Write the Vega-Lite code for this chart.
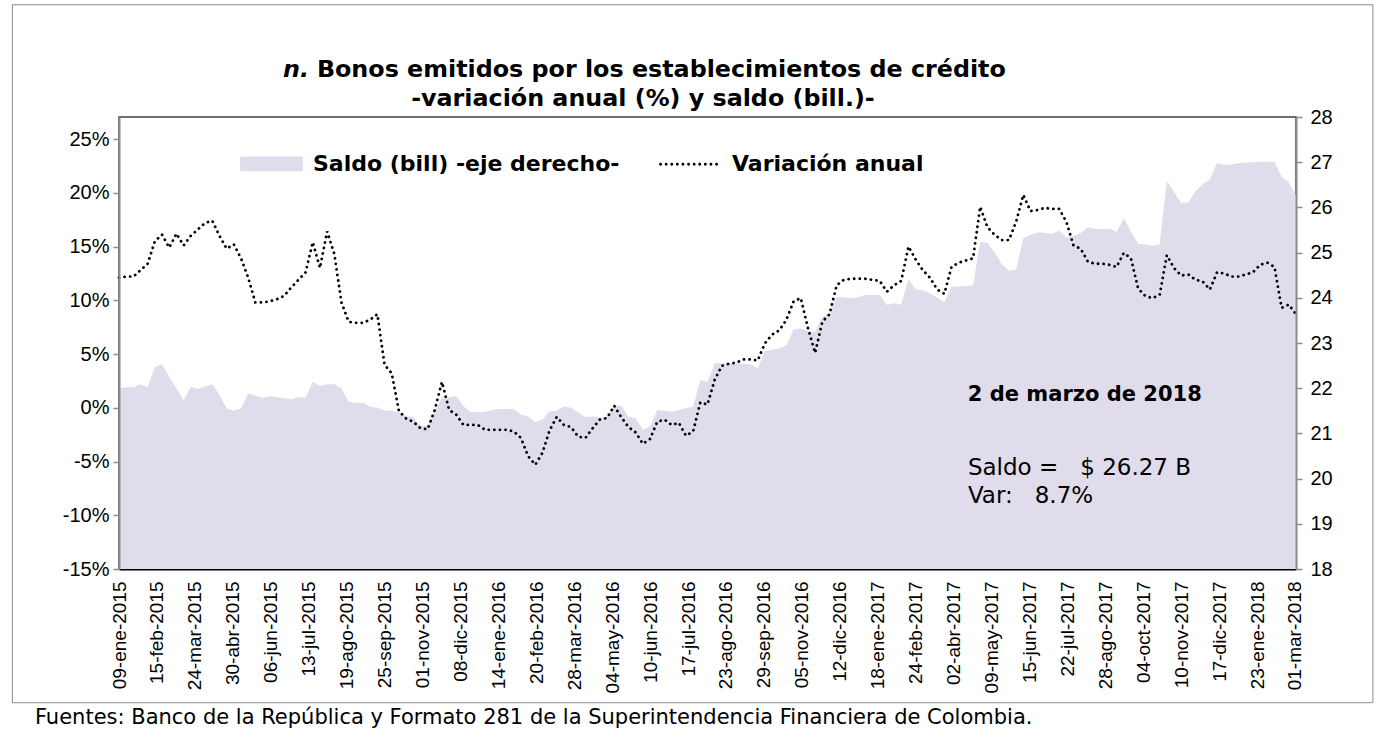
{
  "$schema": "https://vega.github.io/schema/vega-lite/v6.json",
  "width": 1177,
  "height": 452,
  "autosize": {"type": "none"},
  "padding": {"left": 119, "top": 117, "right": 85, "bottom": 166},
  "background": "white",
  "config": {
    "font": "Liberation Sans",
    "view": {"stroke": "#404040", "strokeWidth": 1.5},
    "axis": {"grid": false, "labelFont": "Liberation Sans", "labelColor": "black", "domainColor": "#8c8c8c", "tickColor": "#8c8c8c", "domainWidth": 2, "tickWidth": 1.5, "tickSize": 6, "title": null},
    "axisX": {"labelAngle": 270, "labelAlign": "right", "labelBaseline": "middle", "labelFontSize": 19, "labelPadding": 12, "ticks": false, "domainColor": "black", "domainWidth": 2, "labelOverlap": false, "labelBound": false, "labelFlush": false, "zindex": 1}
  },
  "data": {"name": "semanas"},
  "datasets": {
    "semanas": [
      {"fecha": "2015-01-09", "var": 12.1, "saldo": 22.00},
      {"fecha": "2015-01-16", "var": 12.2, "saldo": 22.02},
      {"fecha": "2015-01-23", "var": 12.2, "saldo": 22.02},
      {"fecha": "2015-01-30", "var": 12.8, "saldo": 22.09},
      {"fecha": "2015-02-06", "var": 13.4, "saldo": 22.02},
      {"fecha": "2015-02-13", "var": 15.5, "saldo": 22.47},
      {"fecha": "2015-02-20", "var": 16.1, "saldo": 22.53},
      {"fecha": "2015-02-27", "var": 14.9, "saldo": 22.25},
      {"fecha": "2015-03-06", "var": 16.2, "saldo": 22.00},
      {"fecha": "2015-03-13", "var": 15.1, "saldo": 21.72},
      {"fecha": "2015-03-20", "var": 16.0, "saldo": 22.03},
      {"fecha": "2015-03-27", "var": 16.6, "saldo": 21.98},
      {"fecha": "2015-04-03", "var": 17.2, "saldo": 22.04},
      {"fecha": "2015-04-10", "var": 17.4, "saldo": 22.09},
      {"fecha": "2015-04-17", "var": 16.0, "saldo": 21.85},
      {"fecha": "2015-04-24", "var": 14.8, "saldo": 21.55},
      {"fecha": "2015-05-01", "var": 15.2, "saldo": 21.50},
      {"fecha": "2015-05-08", "var": 13.9, "saldo": 21.55},
      {"fecha": "2015-05-15", "var": 12.1, "saldo": 21.88},
      {"fecha": "2015-05-22", "var": 9.8, "saldo": 21.84},
      {"fecha": "2015-05-29", "var": 9.8, "saldo": 21.79},
      {"fecha": "2015-06-05", "var": 9.9, "saldo": 21.83},
      {"fecha": "2015-06-12", "var": 10.1, "saldo": 21.80},
      {"fecha": "2015-06-19", "var": 10.4, "saldo": 21.78},
      {"fecha": "2015-06-26", "var": 11.2, "saldo": 21.75},
      {"fecha": "2015-07-03", "var": 11.9, "saldo": 21.80},
      {"fecha": "2015-07-10", "var": 12.6, "saldo": 21.79},
      {"fecha": "2015-07-17", "var": 15.4, "saldo": 22.14},
      {"fecha": "2015-07-24", "var": 13.0, "saldo": 22.05},
      {"fecha": "2015-07-31", "var": 16.4, "saldo": 22.09},
      {"fecha": "2015-08-07", "var": 14.3, "saldo": 22.09},
      {"fecha": "2015-08-14", "var": 9.8, "saldo": 22.00},
      {"fecha": "2015-08-21", "var": 8.0, "saldo": 21.70},
      {"fecha": "2015-08-28", "var": 7.9, "saldo": 21.67},
      {"fecha": "2015-09-04", "var": 7.9, "saldo": 21.68},
      {"fecha": "2015-09-11", "var": 8.2, "saldo": 21.59},
      {"fecha": "2015-09-18", "var": 8.7, "saldo": 21.57},
      {"fecha": "2015-09-25", "var": 4.0, "saldo": 21.51},
      {"fecha": "2015-10-02", "var": 3.2, "saldo": 21.50},
      {"fecha": "2015-10-09", "var": -0.3, "saldo": 21.46},
      {"fecha": "2015-10-16", "var": -1.0, "saldo": 21.38},
      {"fecha": "2015-10-23", "var": -1.3, "saldo": 21.36},
      {"fecha": "2015-10-30", "var": -1.9, "saldo": 21.17},
      {"fecha": "2015-11-06", "var": -2.0, "saldo": 21.17},
      {"fecha": "2015-11-13", "var": -0.2, "saldo": 21.48},
      {"fecha": "2015-11-20", "var": 2.4, "saldo": 21.80},
      {"fecha": "2015-11-27", "var": -0.2, "saldo": 21.80},
      {"fecha": "2015-12-04", "var": -0.65, "saldo": 21.83},
      {"fecha": "2015-12-11", "var": -1.6, "saldo": 21.60},
      {"fecha": "2015-12-18", "var": -1.6, "saldo": 21.47},
      {"fecha": "2015-12-25", "var": -1.6, "saldo": 21.47},
      {"fecha": "2016-01-01", "var": -2.05, "saldo": 21.48},
      {"fecha": "2016-01-08", "var": -2.05, "saldo": 21.51},
      {"fecha": "2016-01-15", "var": -2.05, "saldo": 21.54},
      {"fecha": "2016-01-22", "var": -2.05, "saldo": 21.54},
      {"fecha": "2016-01-29", "var": -2.2, "saldo": 21.54},
      {"fecha": "2016-02-05", "var": -2.8, "saldo": 21.41},
      {"fecha": "2016-02-12", "var": -4.5, "saldo": 21.38},
      {"fecha": "2016-02-19", "var": -5.3, "saldo": 21.25},
      {"fecha": "2016-02-26", "var": -4.2, "saldo": 21.30},
      {"fecha": "2016-03-04", "var": -2.1, "saldo": 21.49},
      {"fecha": "2016-03-11", "var": -0.85, "saldo": 21.50},
      {"fecha": "2016-03-18", "var": -1.6, "saldo": 21.60},
      {"fecha": "2016-03-25", "var": -1.8, "saldo": 21.57},
      {"fecha": "2016-04-01", "var": -2.7, "saldo": 21.46},
      {"fecha": "2016-04-08", "var": -2.8, "saldo": 21.36},
      {"fecha": "2016-04-15", "var": -1.9, "saldo": 21.38},
      {"fecha": "2016-04-22", "var": -1.1, "saldo": 21.36},
      {"fecha": "2016-04-29", "var": -0.96, "saldo": 21.37},
      {"fecha": "2016-05-06", "var": 0.2, "saldo": 21.61},
      {"fecha": "2016-05-13", "var": -0.9, "saldo": 21.61},
      {"fecha": "2016-05-20", "var": -1.8, "saldo": 21.37},
      {"fecha": "2016-05-27", "var": -2.3, "saldo": 21.33},
      {"fecha": "2016-06-03", "var": -3.35, "saldo": 21.08},
      {"fecha": "2016-06-10", "var": -2.9, "saldo": 21.15},
      {"fecha": "2016-06-17", "var": -1.3, "saldo": 21.52},
      {"fecha": "2016-06-24", "var": -1.1, "saldo": 21.50},
      {"fecha": "2016-07-01", "var": -1.6, "saldo": 21.48},
      {"fecha": "2016-07-08", "var": -1.4, "saldo": 21.52},
      {"fecha": "2016-07-15", "var": -2.6, "saldo": 21.56},
      {"fecha": "2016-07-22", "var": -2.2, "saldo": 21.59},
      {"fecha": "2016-07-29", "var": 0.5, "saldo": 22.18},
      {"fecha": "2016-08-05", "var": 0.3, "saldo": 22.14},
      {"fecha": "2016-08-12", "var": 2.6, "saldo": 22.55},
      {"fecha": "2016-08-19", "var": 3.9, "saldo": 22.55},
      {"fecha": "2016-08-26", "var": 4.1, "saldo": 22.55},
      {"fecha": "2016-09-02", "var": 4.2, "saldo": 22.55},
      {"fecha": "2016-09-09", "var": 4.5, "saldo": 22.54},
      {"fecha": "2016-09-16", "var": 4.5, "saldo": 22.53},
      {"fecha": "2016-09-23", "var": 4.4, "saldo": 22.44},
      {"fecha": "2016-09-30", "var": 6.0, "saldo": 22.82},
      {"fecha": "2016-10-07", "var": 6.8, "saldo": 22.85},
      {"fecha": "2016-10-14", "var": 7.2, "saldo": 22.88},
      {"fecha": "2016-10-21", "var": 8.2, "saldo": 22.95},
      {"fecha": "2016-10-28", "var": 9.9, "saldo": 23.30},
      {"fecha": "2016-11-04", "var": 10.2, "saldo": 23.32},
      {"fecha": "2016-11-11", "var": 7.4, "saldo": 23.26},
      {"fecha": "2016-11-18", "var": 5.1, "saldo": 23.25},
      {"fecha": "2016-11-25", "var": 8.0, "saldo": 23.58},
      {"fecha": "2016-12-02", "var": 8.7, "saldo": 23.66},
      {"fecha": "2016-12-09", "var": 11.4, "saldo": 24.02},
      {"fecha": "2016-12-16", "var": 11.9, "saldo": 24.01},
      {"fecha": "2016-12-23", "var": 12.0, "saldo": 23.99},
      {"fecha": "2016-12-30", "var": 12.0, "saldo": 24.02},
      {"fecha": "2017-01-06", "var": 12.0, "saldo": 24.06},
      {"fecha": "2017-01-13", "var": 11.9, "saldo": 24.06},
      {"fecha": "2017-01-20", "var": 11.8, "saldo": 24.06},
      {"fecha": "2017-01-27", "var": 10.8, "saldo": 23.84},
      {"fecha": "2017-02-03", "var": 11.4, "saldo": 23.88},
      {"fecha": "2017-02-10", "var": 11.8, "saldo": 23.85},
      {"fecha": "2017-02-17", "var": 15.0, "saldo": 24.41},
      {"fecha": "2017-02-24", "var": 13.8, "saldo": 24.19},
      {"fecha": "2017-03-03", "var": 12.8, "saldo": 24.17},
      {"fecha": "2017-03-10", "var": 12.1, "saldo": 24.10},
      {"fecha": "2017-03-17", "var": 11.0, "saldo": 24.00},
      {"fecha": "2017-03-24", "var": 10.6, "saldo": 23.90},
      {"fecha": "2017-03-31", "var": 13.1, "saldo": 24.25},
      {"fecha": "2017-04-07", "var": 13.5, "saldo": 24.25},
      {"fecha": "2017-04-14", "var": 13.7, "saldo": 24.26},
      {"fecha": "2017-04-21", "var": 13.9, "saldo": 24.28},
      {"fecha": "2017-04-28", "var": 18.7, "saldo": 25.24},
      {"fecha": "2017-05-05", "var": 16.8, "saldo": 25.22},
      {"fecha": "2017-05-12", "var": 16.1, "saldo": 25.00},
      {"fecha": "2017-05-19", "var": 15.6, "saldo": 24.75},
      {"fecha": "2017-05-26", "var": 15.6, "saldo": 24.60},
      {"fecha": "2017-06-02", "var": 17.3, "saldo": 24.62},
      {"fecha": "2017-06-09", "var": 19.8, "saldo": 25.31},
      {"fecha": "2017-06-16", "var": 18.3, "saldo": 25.39},
      {"fecha": "2017-06-23", "var": 18.4, "saldo": 25.45},
      {"fecha": "2017-06-30", "var": 18.6, "saldo": 25.44},
      {"fecha": "2017-07-07", "var": 18.5, "saldo": 25.41},
      {"fecha": "2017-07-14", "var": 18.5, "saldo": 25.49},
      {"fecha": "2017-07-21", "var": 17.3, "saldo": 25.34},
      {"fecha": "2017-07-28", "var": 15.1, "saldo": 25.37},
      {"fecha": "2017-08-04", "var": 14.8, "saldo": 25.43},
      {"fecha": "2017-08-11", "var": 13.6, "saldo": 25.56},
      {"fecha": "2017-08-18", "var": 13.4, "saldo": 25.52},
      {"fecha": "2017-08-25", "var": 13.4, "saldo": 25.52},
      {"fecha": "2017-09-01", "var": 13.3, "saldo": 25.52},
      {"fecha": "2017-09-08", "var": 13.1, "saldo": 25.46},
      {"fecha": "2017-09-15", "var": 14.4, "saldo": 25.76},
      {"fecha": "2017-09-22", "var": 13.9, "saldo": 25.46},
      {"fecha": "2017-09-29", "var": 11.1, "saldo": 25.19},
      {"fecha": "2017-10-06", "var": 10.4, "saldo": 25.18},
      {"fecha": "2017-10-13", "var": 10.2, "saldo": 25.15},
      {"fecha": "2017-10-20", "var": 10.5, "saldo": 25.18},
      {"fecha": "2017-10-27", "var": 14.2, "saldo": 26.59},
      {"fecha": "2017-11-03", "var": 13.0, "saldo": 26.34},
      {"fecha": "2017-11-10", "var": 12.3, "saldo": 26.10},
      {"fecha": "2017-11-17", "var": 12.4, "saldo": 26.11},
      {"fecha": "2017-11-24", "var": 11.9, "saldo": 26.36},
      {"fecha": "2017-12-01", "var": 11.75, "saldo": 26.52},
      {"fecha": "2017-12-08", "var": 11.0, "saldo": 26.61},
      {"fecha": "2017-12-15", "var": 12.6, "saldo": 26.98},
      {"fecha": "2017-12-22", "var": 12.5, "saldo": 26.94},
      {"fecha": "2017-12-29", "var": 12.2, "saldo": 26.95},
      {"fecha": "2018-01-05", "var": 12.2, "saldo": 26.98},
      {"fecha": "2018-01-12", "var": 12.4, "saldo": 26.99},
      {"fecha": "2018-01-19", "var": 12.6, "saldo": 27.00},
      {"fecha": "2018-01-26", "var": 13.3, "saldo": 27.01},
      {"fecha": "2018-02-02", "var": 13.5, "saldo": 27.01},
      {"fecha": "2018-02-09", "var": 13.1, "saldo": 27.01},
      {"fecha": "2018-02-16", "var": 9.3, "saldo": 26.68},
      {"fecha": "2018-02-23", "var": 9.6, "saldo": 26.55},
      {"fecha": "2018-03-02", "var": 8.7, "saldo": 26.27}
    ]
  },
  "layer": [
    {
      "mark": {"type": "area", "interpolate": "linear", "opacity": 1},
      "encoding": {
        "x": {
          "field": "fecha",
          "type": "temporal",
          "scale": {"type": "utc", "domain": [{"year": 2015, "month": 1, "date": 9, "utc": true}, {"year": 2018, "month": 3, "date": 2, "utc": true}], "nice": false},
          "axis": {
            "values": [
              {"year": 2015, "month": 1, "date": 9, "utc": true}, {"year": 2015, "month": 2, "date": 15, "utc": true}, {"year": 2015, "month": 3, "date": 24, "utc": true}, {"year": 2015, "month": 4, "date": 30, "utc": true}, {"year": 2015, "month": 6, "date": 6, "utc": true}, {"year": 2015, "month": 7, "date": 13, "utc": true}, {"year": 2015, "month": 8, "date": 19, "utc": true}, {"year": 2015, "month": 9, "date": 25, "utc": true}, {"year": 2015, "month": 11, "date": 1, "utc": true}, {"year": 2015, "month": 12, "date": 8, "utc": true},
              {"year": 2016, "month": 1, "date": 14, "utc": true}, {"year": 2016, "month": 2, "date": 20, "utc": true}, {"year": 2016, "month": 3, "date": 28, "utc": true}, {"year": 2016, "month": 5, "date": 4, "utc": true}, {"year": 2016, "month": 6, "date": 10, "utc": true}, {"year": 2016, "month": 7, "date": 17, "utc": true}, {"year": 2016, "month": 8, "date": 23, "utc": true}, {"year": 2016, "month": 9, "date": 29, "utc": true}, {"year": 2016, "month": 11, "date": 5, "utc": true}, {"year": 2016, "month": 12, "date": 12, "utc": true},
              {"year": 2017, "month": 1, "date": 18, "utc": true}, {"year": 2017, "month": 2, "date": 24, "utc": true}, {"year": 2017, "month": 4, "date": 2, "utc": true}, {"year": 2017, "month": 5, "date": 9, "utc": true}, {"year": 2017, "month": 6, "date": 15, "utc": true}, {"year": 2017, "month": 7, "date": 22, "utc": true}, {"year": 2017, "month": 8, "date": 28, "utc": true}, {"year": 2017, "month": 10, "date": 4, "utc": true}, {"year": 2017, "month": 11, "date": 10, "utc": true}, {"year": 2017, "month": 12, "date": 17, "utc": true},
              {"year": 2018, "month": 1, "date": 23, "utc": true}, {"year": 2018, "month": 3, "date": 1, "utc": true}
            ],
            "labelExpr": "utcFormat(datum.value, '%d') + '-' + ['ene','feb','mar','abr','may','jun','jul','ago','sep','oct','nov','dic'][utcmonth(datum.value)] + '-' + utcFormat(datum.value, '%Y')",
            "labelOverlap": false
          }
        },
        "y": {
          "field": "saldo",
          "type": "quantitative",
          "scale": {"domain": [18, 28], "nice": false, "zero": false},
          "axis": {"orient": "right", "values": [18, 19, 20, 21, 22, 23, 24, 25, 26, 27, 28], "labelFontSize": 20, "labelPadding": 8, "zindex": 1}
        },
        "y2": {"datum": 18},
        "color": {
          "datum": "Saldo (bill) -eje derecho-",
          "type": "nominal",
          "scale": {"domain": ["Saldo (bill) -eje derecho-", "Variación anual"], "range": ["#e0dceb", "#000000"]},
          "legend": {
            "title": null,
            "orient": "none",
            "legendX": 121,
            "legendY": 15,
            "direction": "horizontal",
            "labelFont": "DejaVu Sans",
            "labelFontSize": 22,
            "labelFontWeight": "bold",
            "labelColor": "black",
            "labelLimit": 600,
            "labelOffset": 10,
            "columnPadding": 34,
            "symbolSize": 3600,
            "symbolType": "square",
            "encode": {
              "symbols": {
                "update": {
                  "shape": {"signal": "datum.value === 'Variación anual' ? 'M-1,0H1' : 'M-1,-0.2H1V0.2H-1Z'"},
                  "fill": {"signal": "datum.value === 'Variación anual' ? 'transparent' : '#e0dceb'"},
                  "stroke": {"signal": "datum.value === 'Variación anual' ? '#000000' : 'transparent'"},
                  "strokeDash": {"signal": "datum.value === 'Variación anual' ? [0.1, 5.5] : [1, 0]"},
                  "strokeCap": {"value": "round"},
                  "strokeWidth": {"value": 2.8},
                  "opacity": {"value": 1},
                  "size": {"value": 3600}
                }
              }
            }
          }
        }
      }
    },
    {
      "mark": {"type": "line", "strokeDash": [0.1, 5.5], "strokeCap": "round", "strokeWidth": 2.8, "interpolate": "linear"},
      "encoding": {
        "x": {"field": "fecha", "type": "temporal", "scale": {"type": "utc", "domain": [{"year": 2015, "month": 1, "date": 9, "utc": true}, {"year": 2018, "month": 3, "date": 2, "utc": true}], "nice": false}, "axis": null},
        "y": {
          "field": "var",
          "type": "quantitative",
          "scale": {"domain": [-15, 27.05], "nice": false, "zero": false},
          "axis": {"orient": "left", "values": [-15, -10, -5, 0, 5, 10, 15, 20, 25], "labelExpr": "datum.value + '%'", "labelFontSize": 20, "labelPadding": 4, "zindex": 1}
        },
        "color": {
          "datum": "Variación anual",
          "type": "nominal",
          "legend": {
            "title": null,
            "orient": "none",
            "legendX": 121,
            "legendY": 15,
            "direction": "horizontal",
            "labelFont": "DejaVu Sans",
            "labelFontSize": 22,
            "labelFontWeight": "bold",
            "labelColor": "black",
            "labelLimit": 600,
            "labelOffset": 10,
            "columnPadding": 34,
            "symbolSize": 3600,
            "symbolType": "square",
            "encode": {
              "symbols": {
                "update": {
                  "shape": {"signal": "datum.value === 'Variación anual' ? 'M-1,0H1' : 'M-1,-0.2H1V0.2H-1Z'"},
                  "fill": {"signal": "datum.value === 'Variación anual' ? 'transparent' : '#e0dceb'"},
                  "stroke": {"signal": "datum.value === 'Variación anual' ? '#000000' : 'transparent'"},
                  "strokeDash": {"signal": "datum.value === 'Variación anual' ? [0.1, 5.5] : [1, 0]"},
                  "strokeCap": {"value": "round"},
                  "strokeWidth": {"value": 2.8},
                  "opacity": {"value": 1},
                  "size": {"value": 3600}
                }
              }
            }
          }
        }
      }
    },
    {
      "transform": [{"aggregate": [{"op": "count", "as": "n"}]}],
      "mark": {"type": "rect", "filled": false, "stroke": "#8c8c8c", "strokeWidth": 1},
      "encoding": {
        "x": {"datum": {"year": 2014, "month": 9, "date": 27, "utc": true}, "type": "temporal", "scale": {"type": "utc", "domain": [{"year": 2015, "month": 1, "date": 9, "utc": true}, {"year": 2018, "month": 3, "date": 2, "utc": true}], "nice": false}, "axis": null},
        "x2": {"datum": {"year": 2018, "month": 5, "date": 16, "utc": true}},
        "y": {"datum": 37.49, "type": "quantitative", "scale": {"domain": [-15, 27.05], "nice": false, "zero": false}, "axis": null},
        "y2": {"datum": -27.44}
      }
    },
    {
      "transform": [{"aggregate": [{"op": "count", "as": "n"}]}],
      "mark": {"type": "text", "text": "n.", "font": "DejaVu Sans", "fontSize": 23.8, "fontWeight": "bold", "fontStyle": "italic", "align": "left", "baseline": "middle", "color": "black"},
      "encoding": {
        "x": {"datum": {"year": 2015, "month": 6, "date": 18, "utc": true}, "type": "temporal", "scale": {"type": "utc", "domain": [{"year": 2015, "month": 1, "date": 9, "utc": true}, {"year": 2018, "month": 3, "date": 2, "utc": true}], "nice": false}, "axis": null},
        "y": {"datum": 31.44, "type": "quantitative", "scale": {"domain": [-15, 27.05], "nice": false, "zero": false}, "axis": null}
      }
    },
    {
      "transform": [{"aggregate": [{"op": "count", "as": "n"}]}],
      "mark": {"type": "text", "text": "Bonos emitidos por los establecimientos de crédito", "font": "DejaVu Sans", "fontSize": 23.8, "fontWeight": "bold", "align": "left", "baseline": "middle", "color": "black"},
      "encoding": {
        "x": {"datum": {"year": 2015, "month": 7, "date": 21, "utc": true}, "type": "temporal", "scale": {"type": "utc", "domain": [{"year": 2015, "month": 1, "date": 9, "utc": true}, {"year": 2018, "month": 3, "date": 2, "utc": true}], "nice": false}, "axis": null},
        "y": {"datum": 31.44, "type": "quantitative", "scale": {"domain": [-15, 27.05], "nice": false, "zero": false}, "axis": null}
      }
    },
    {
      "transform": [{"aggregate": [{"op": "count", "as": "n"}]}],
      "mark": {"type": "text", "text": "-variación anual (%) y saldo (bill.)-", "font": "DejaVu Sans", "fontSize": 23.8, "fontWeight": "bold", "align": "center", "baseline": "middle", "color": "black"},
      "encoding": {
        "x": {"datum": {"year": 2016, "month": 6, "date": 3, "utc": true}, "type": "temporal", "scale": {"type": "utc", "domain": [{"year": 2015, "month": 1, "date": 9, "utc": true}, {"year": 2018, "month": 3, "date": 2, "utc": true}], "nice": false}, "axis": null},
        "y": {"datum": 28.74, "type": "quantitative", "scale": {"domain": [-15, 27.05], "nice": false, "zero": false}, "axis": null}
      }
    },
    {
      "transform": [{"aggregate": [{"op": "count", "as": "n"}]}],
      "mark": {"type": "text", "text": "2 de marzo de 2018", "font": "DejaVu Sans", "fontSize": 21, "fontWeight": "bold", "align": "center", "baseline": "middle", "color": "black"},
      "encoding": {
        "x": {"datum": {"year": 2017, "month": 8, "date": 8, "utc": true}, "type": "temporal", "scale": {"type": "utc", "domain": [{"year": 2015, "month": 1, "date": 9, "utc": true}, {"year": 2018, "month": 3, "date": 2, "utc": true}], "nice": false}, "axis": null},
        "y": {"datum": 1.2, "type": "quantitative", "scale": {"domain": [-15, 27.05], "nice": false, "zero": false}, "axis": null}
      }
    },
    {
      "transform": [{"aggregate": [{"op": "count", "as": "n"}]}],
      "mark": {"type": "text", "text": "Saldo =\u00a0\u00a0\u00a0$ 26.27 B", "font": "DejaVu Sans", "fontSize": 23, "align": "left", "baseline": "middle", "color": "black"},
      "encoding": {
        "x": {"datum": {"year": 2017, "month": 4, "date": 16, "utc": true}, "type": "temporal", "scale": {"type": "utc", "domain": [{"year": 2015, "month": 1, "date": 9, "utc": true}, {"year": 2018, "month": 3, "date": 2, "utc": true}], "nice": false}, "axis": null},
        "y": {"datum": -5.6, "type": "quantitative", "scale": {"domain": [-15, 27.05], "nice": false, "zero": false}, "axis": null}
      }
    },
    {
      "transform": [{"aggregate": [{"op": "count", "as": "n"}]}],
      "mark": {"type": "text", "text": "Var:\u00a0\u00a0\u00a08.7%", "font": "DejaVu Sans", "fontSize": 23, "align": "left", "baseline": "middle", "color": "black"},
      "encoding": {
        "x": {"datum": {"year": 2017, "month": 4, "date": 16, "utc": true}, "type": "temporal", "scale": {"type": "utc", "domain": [{"year": 2015, "month": 1, "date": 9, "utc": true}, {"year": 2018, "month": 3, "date": 2, "utc": true}], "nice": false}, "axis": null},
        "y": {"datum": -8.25, "type": "quantitative", "scale": {"domain": [-15, 27.05], "nice": false, "zero": false}, "axis": null}
      }
    },
    {
      "transform": [{"aggregate": [{"op": "count", "as": "n"}]}],
      "mark": {"type": "text", "text": "Fuentes: Banco de la República y Formato 281 de la Superintendencia Financiera de Colombia.", "font": "DejaVu Sans", "fontSize": 21, "align": "left", "baseline": "middle", "color": "black"},
      "encoding": {
        "x": {"datum": {"year": 2014, "month": 10, "date": 19, "utc": true}, "type": "temporal", "scale": {"type": "utc", "domain": [{"year": 2015, "month": 1, "date": 9, "utc": true}, {"year": 2018, "month": 3, "date": 2, "utc": true}], "nice": false}, "axis": null},
        "y": {"datum": -28.84, "type": "quantitative", "scale": {"domain": [-15, 27.05], "nice": false, "zero": false}, "axis": null}
      }
    }
  ],
  "resolve": {"scale": {"y": "independent", "x": "independent"}}
}
